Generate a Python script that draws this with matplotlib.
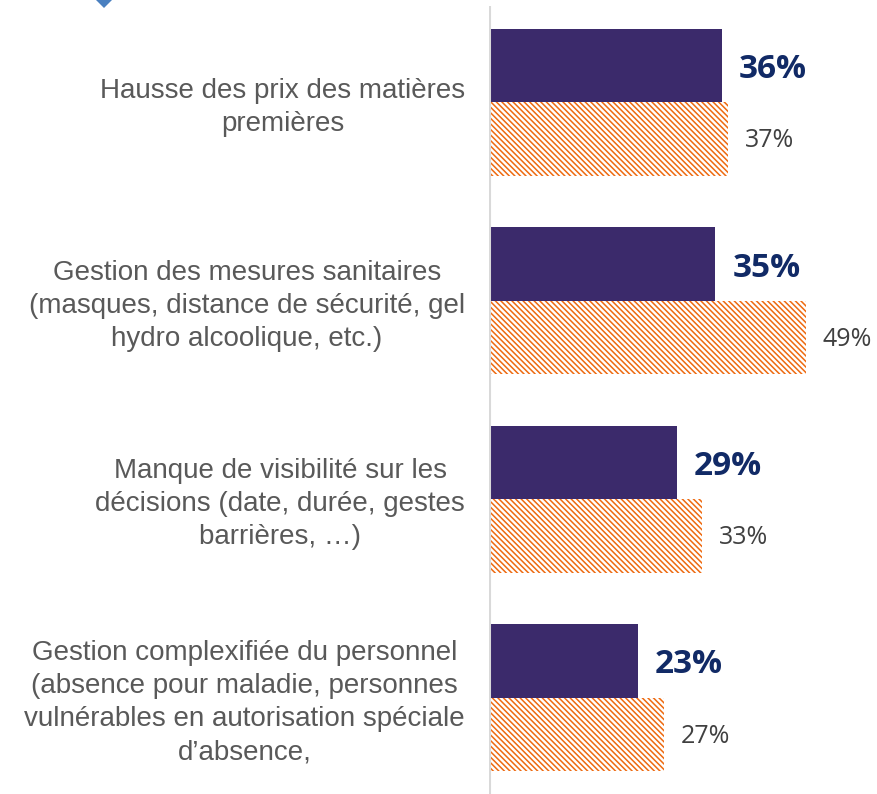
import matplotlib
matplotlib.use("Agg")
import matplotlib.pyplot as plt
from matplotlib.patches import Polygon
import numpy as np

categories = [
    "Hausse des prix des matières\npremières",
    "Gestion des mesures sanitaires\n(masques, distance de sécurité, gel\nhydro alcoolique, etc.)",
    "Manque de visibilité sur les\ndécisions (date, durée, gestes\nbarrières, …)",
    "Gestion complexifiée du personnel\n(absence pour maladie, personnes\nvulnérables en autorisation spéciale\nd’absence,",
]
current = [36, 35, 29, 23]
previous = [37, 49, 33, 27]

PURPLE = "#3b2a6b"
ORANGE = "#ee6a10"
NAVY = "#112a66"
GRAY_TXT = "#595959"
DPI = 100
W, H = 877, 794

plt.rcParams["hatch.linewidth"] = 1.1

fig = plt.figure(figsize=(W / DPI, H / DPI), dpi=DPI)
ax_left, ax_top = 489, 6
ax = fig.add_axes([ax_left / W, 0, (W - ax_left) / W, (H - ax_top) / H])

y = np.arange(len(categories))
bh = 0.37
ax.barh(y - bh / 2, current, height=bh, color=PURPLE, linewidth=0)
ax.barh(y + bh / 2, previous, height=bh, facecolor="white",
        edgecolor=ORANGE, hatch="\\" * 6, linewidth=0)

ax.set_xlim(0, 60)
ax.set_ylim(len(categories) - 1 + 0.485, -0.485)

for s in ax.spines.values():
    s.set_visible(False)
ax.axvline(0, color="#d9d9d9", lw=2.2)
ax.set_xticks([])
ax.set_yticks([])

px_per = (W - ax_left) / 60
for i, (c, p) in enumerate(zip(current, previous)):
    ax.text(c + 17 / px_per, i - bh / 2 + 0.02, f"{c}%", ha="left", va="center",
            fontsize=24, fontweight="bold", color=NAVY, family="Open Sans")
    ax.text(p + 17 / px_per, i + bh / 2 + 0.01, f"{p}%", ha="left", va="center",
            fontsize=18, color="#404040", family="Open Sans")

lx = -24 / (W - ax_left)
for i, lab in enumerate(categories):
    ax.text(lx, i + 0.025, lab, transform=ax.get_yaxis_transform(), ha="right",
            va="center", multialignment="center", fontsize=20,
            color=GRAY_TXT, family="Liberation Sans", linespacing=1.36)

# small decorative diamond cut off at the top-left
pts = [(104, 8), (113, -1), (104, -10), (95, -1)]
fig.patches.append(Polygon([(px / W, 1 - py / H) for px, py in pts],
                           closed=True, transform=fig.transFigure,
                           facecolor="#4a80c0", edgecolor="none"))

fig.savefig("out.png", dpi=DPI)
